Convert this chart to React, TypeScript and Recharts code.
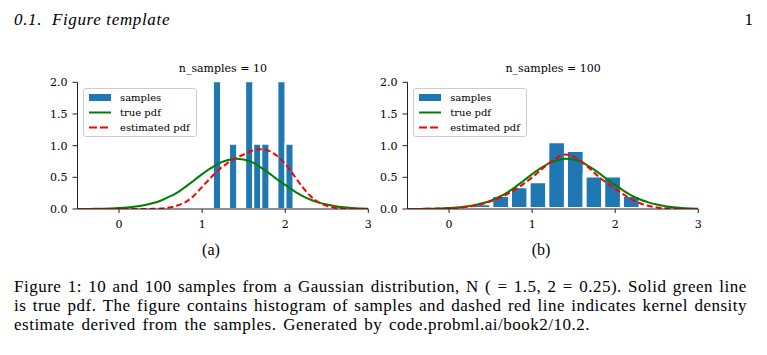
import React from 'react';
import { ComposedChart, XAxis, YAxis, Line, ReferenceArea, Legend } from 'recharts';

// curves are sampled on one shared grid
const GRID_X = [
  -0.5, -0.4, -0.3, -0.2, -0.1, 0, 0.1, 0.2, 0.3, 0.4, 0.5, 0.6, 0.7, 0.8, 0.9, 1.0, 1.1, 1.2,
  1.3, 1.4, 1.5, 1.6, 1.7, 1.8, 1.9, 2.0, 2.1, 2.2, 2.3, 2.4, 2.5, 2.6, 2.7, 2.8, 2.9, 3.0,
];
const TRUE_PDF = [
  0.001, 0.001, 0.002, 0.005, 0.009, 0.015, 0.024, 0.038, 0.06, 0.09, 0.13, 0.19, 0.26, 0.35, 0.45, 0.55, 0.64, 0.72,
  0.77, 0.795, 0.78, 0.74, 0.66, 0.57, 0.47, 0.38, 0.29, 0.21, 0.15, 0.105, 0.07, 0.045, 0.027, 0.016, 0.009, 0.005,
];
const EST_PDF_10 = [
  0, 0, 0, 0, 0, 0, 0, 0, 0, 0.002, 0.007, 0.022, 0.055, 0.11, 0.21, 0.35, 0.49, 0.62,
  0.72, 0.8, 0.86, 0.92, 0.945, 0.92, 0.84, 0.71, 0.54, 0.36, 0.21, 0.11, 0.05, 0.02, 0.006, 0.002, 0, 0,
];
const EST_PDF_100 = [
  0, 0.001, 0.002, 0.004, 0.008, 0.013, 0.02, 0.032, 0.05, 0.08, 0.12, 0.17, 0.235, 0.31, 0.4, 0.5, 0.61, 0.72,
  0.81, 0.86, 0.83, 0.74, 0.63, 0.51, 0.41, 0.32, 0.23, 0.15, 0.09, 0.05, 0.025, 0.011, 0.005, 0.002, 0.001, 0,
];

// histogram bins (edges) and their density heights
const EDGES_10 = [1.13, 1.227, 1.324, 1.421, 1.518, 1.615, 1.712, 1.809, 1.906, 2.003, 2.1];
const DENSITY_10 = [2.06, 0, 1.03, 0, 2.06, 1.03, 1.03, 0, 2.06, 1.03];
const EDGES_100 = [0.06, 0.285, 0.509, 0.734, 0.958, 1.183, 1.407, 1.632, 1.856, 2.081, 2.305];
const DENSITY_100 = [0.04, 0.09, 0.22, 0.36, 0.44, 1.07, 0.93, 0.53, 0.53, 0.22];

const X_TICKS = [0, 1, 2, 3];
const Y_TICKS = [0, 0.5, 1, 1.5, 2];
const LEGEND_LABELS = ['samples', 'true pdf', 'estimated pdf'];

const CAPTION_LINES = [
  'Figure 1: 10 and 100 samples from a Gaussian distribution, N ( = 1.5, 2 = 0.25). Solid green line',
  'is true pdf. The figure contains histogram of samples and dashed red line indicates kernel density',
  'estimate derived from the samples. Generated by code.probml.ai/book2/10.2.',
];

const BLUE = '#1f77b4';
const GREEN = '#008000';
const RED = '#ff0000';
const AXIS_FONT = '"DejaVu Serif", serif';
const TEXT_FONT = '"Liberation Serif", serif';

const toPoints = (ys: number[]) => GRID_X.map((x, i) => ({ x, y: ys[i] }));

function LegendBox() {
  return (
    <div
      style={{
        border: '1px solid #cccccc',
        borderRadius: 3,
        background: 'rgba(255,255,255,0.8)',
        padding: '1px 6px 1px 5px',
        fontFamily: AXIS_FONT,
        fontSize: 10,
        lineHeight: '15px',
        color: '#000',
      }}
    >
      {LEGEND_LABELS.map((label, i) => (
        <div key={label} style={{ display: 'flex', alignItems: 'center', height: 15 }}>
          <svg width={22} height={15} style={{ marginRight: 9 }}>
            {i === 0 && <rect x={0} y={4} width={22} height={7} fill={BLUE} />}
            {i === 1 && <line x1={0} x2={22} y1={7.5} y2={7.5} stroke={GREEN} strokeWidth={2} />}
            {i === 2 && <line x1={0} x2={22} y1={7.5} y2={7.5} stroke={RED} strokeWidth={2} strokeDasharray="8 3" />}
          </svg>
          <span>{label}</span>
        </div>
      ))}
    </div>
  );
}

interface PanelProps {
  left: number;
  title: string;
  edges: number[];
  density: number[];
  est: number[];
  gap: number;
}

function Panel({ left, title, edges, density, est, gap }: PanelProps) {
  const bins = density
    .map((d, i) => ({ x1: edges[i], x2: edges[i + 1], y: d }))
    .filter(b => b.y > 0);
  const tickStyle = { fill: '#000', fontSize: 11, fontFamily: AXIS_FONT };

  return (
    <div style={{ position: 'absolute', left, top: 55, width: 380, height: 190 }}>
      <div
        style={{
          position: 'absolute',
          left: 77.5,
          width: 290.8,
          top: 6,
          textAlign: 'center',
          fontFamily: AXIS_FONT,
          fontSize: 11,
          lineHeight: '16px',
        }}
      >
        {title}
      </div>
      <ComposedChart width={380} height={190} margin={{ top: 27.3, right: 11.7, bottom: 6, left: 47.5 }}>
        <XAxis
          type="number"
          dataKey="x"
          domain={[-0.5, 3]}
          ticks={X_TICKS}
          allowDataOverflow
          stroke="#222"
          tick={tickStyle}
          tickSize={4}
          tickMargin={7}
        />
        <YAxis
          type="number"
          domain={[0, 2]}
          ticks={Y_TICKS}
          allowDataOverflow
          width={30}
          stroke="#222"
          tick={tickStyle}
          tickSize={5}
          tickMargin={5}
          tickFormatter={(v: number) => v.toFixed(1)}
        />
        {bins.map((b, i) => (
          <ReferenceArea
            key={i}
            x1={b.x1}
            x2={b.x2}
            y1={0}
            y2={b.y}
            ifOverflow="hidden"
            fill={BLUE}
            fillOpacity={1}
            stroke="#ffffff"
            strokeWidth={gap}
          />
        ))}
        <Line
          data={toPoints(TRUE_PDF)}
          dataKey="y"
          type="monotone"
          stroke={GREEN}
          strokeWidth={2}
          dot={false}
          isAnimationActive={false}
        />
        <Line
          data={toPoints(est)}
          dataKey="y"
          type="monotone"
          stroke={RED}
          strokeWidth={2}
          strokeDasharray="6 3"
          dot={false}
          isAnimationActive={false}
        />
        <Legend
          layout="vertical"
          align="center"
          verticalAlign="middle"
          wrapperStyle={{ left: 83, top: 32.7, width: 'auto', height: 'auto' }}
          content={() => <LegendBox />}
        />
      </ComposedChart>
    </div>
  );
}

export default function App() {
  // first two caption lines are spread edge to edge, the last one is set ragged
  const spread = { display: 'flex', justifyContent: 'space-between', height: 19, whiteSpace: 'nowrap' as const };
  return (
    <div
      style={{
        position: 'absolute',
        left: 0,
        top: 0,
        width: 767,
        height: 355,
        background: '#fff',
        overflow: 'hidden',
        fontFamily: TEXT_FONT,
        color: '#000',
      }}
    >
      <div
        style={{
          position: 'absolute',
          left: 14,
          top: 10,
          fontSize: 17,
          letterSpacing: 0.65,
          lineHeight: '20px',
          fontStyle: 'italic',
        }}
      >
        0.1.&nbsp;&nbsp;Figure template
      </div>
      <div style={{ position: 'absolute', right: 14, top: 10, fontSize: 17, lineHeight: '20px' }}>1</div>

      <Panel left={0} title="n_samples = 10" edges={EDGES_10} density={DENSITY_10} est={EST_PDF_10} gap={2} />
      <Panel left={330.2} title="n_samples = 100" edges={EDGES_100} density={DENSITY_100} est={EST_PDF_100} gap={4} />

      <div style={{ position: 'absolute', left: 191, width: 40, top: 241, textAlign: 'center', fontSize: 16, lineHeight: '18px' }}>
        (a)
      </div>
      <div style={{ position: 'absolute', left: 521, width: 40, top: 241, textAlign: 'center', fontSize: 16, lineHeight: '18px' }}>
        (b)
      </div>

      <div
        style={{
          position: 'absolute',
          left: 14,
          top: 276.5,
          width: 733,
          fontSize: 17,
          letterSpacing: 0.5,
          lineHeight: '19px',
        }}
      >
        {CAPTION_LINES.slice(0, 2).map(line => (
          <div key={line} style={spread}>
            {line.split(' ').map((w, i) => (
              <span key={i}>{w}</span>
            ))}
          </div>
        ))}
        <div style={{ height: 19, whiteSpace: 'nowrap', wordSpacing: 2 }}>{CAPTION_LINES[2]}</div>
      </div>
    </div>
  );
}
